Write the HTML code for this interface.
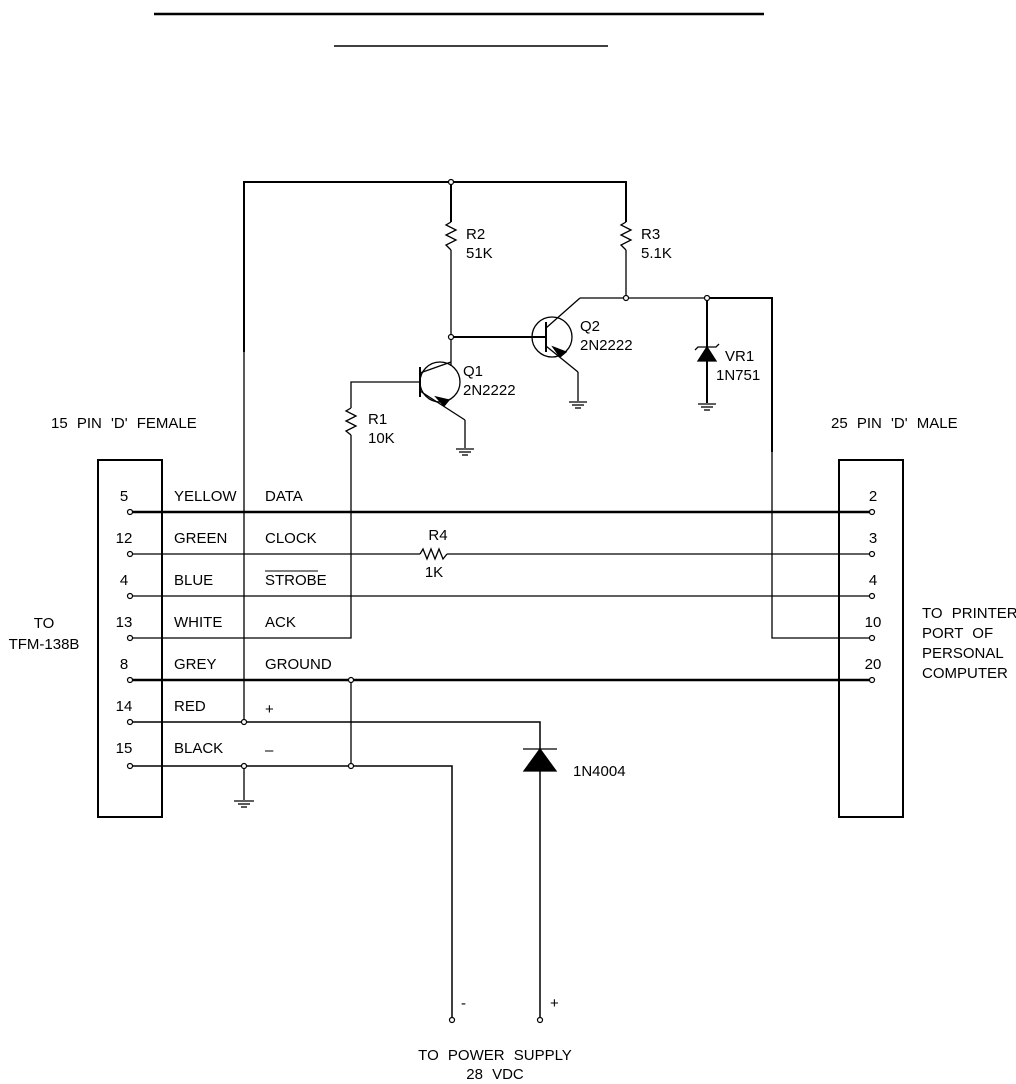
<!DOCTYPE html>
<html><head><meta charset="utf-8"><style>
html,body{margin:0;padding:0;background:#fff}
svg{display:block}
text{font-family:"Liberation Sans",sans-serif;font-size:15px;fill:#000;word-spacing:5px}
</style></head><body>
<svg width="1016" height="1084" viewBox="0 0 1016 1084" xmlns="http://www.w3.org/2000/svg" stroke="#000" fill="none" stroke-width="1.3">
<line x1="154" y1="14" x2="764" y2="14" stroke-width="2.5"/>
<line x1="334" y1="46" x2="608" y2="46" stroke-width="1.5"/>

<rect x="98" y="460" width="64" height="357" stroke-width="2"/>
<rect x="839" y="460" width="64" height="357" stroke-width="2"/>

<polyline points="244,352 244,182 626,182 626,222" stroke-width="2"/>
<line x1="244" y1="352" x2="244" y2="722"/>
<line x1="451" y1="182" x2="451" y2="222" stroke-width="2"/>
<polyline points="451,222 446,225 456,230 446,235 456,240 446,245 451,250"/>
<line x1="451" y1="250" x2="451" y2="366"/>
<polyline points="626,222 621,225 631,230 621,235 631,240 621,245 626,250"/>
<line x1="626" y1="250" x2="626" y2="298"/>
<line x1="580" y1="298" x2="707" y2="298"/>
<polyline points="707,298 772,298 772,452" stroke-width="2"/>
<polyline points="772,452 772,638 872,638"/>
<line x1="451" y1="337" x2="546" y2="337" stroke-width="2"/>
<circle cx="552" cy="337" r="20"/>
<line x1="546" y1="322" x2="546" y2="352" stroke-width="2"/>
<line x1="546" y1="328" x2="580" y2="298"/>
<line x1="546" y1="346" x2="578" y2="372"/>
<polygon points="560,357 553,347 566,352" fill="#000"/>
<line x1="578" y1="372" x2="578" y2="401"/>
<line x1="569" y1="402" x2="587" y2="402"/><line x1="572" y1="405" x2="584" y2="405"/><line x1="575" y1="408" x2="581" y2="408"/>
<circle cx="440" cy="382" r="20"/>
<line x1="420" y1="367" x2="420" y2="397" stroke-width="2"/>
<line x1="420" y1="373" x2="451" y2="362"/>
<line x1="420" y1="391" x2="465" y2="420"/>
<polygon points="444,406 436,397 449,400" fill="#000"/>
<line x1="465" y1="420" x2="465" y2="448"/>
<line x1="456" y1="449" x2="474" y2="449"/><line x1="459" y1="452" x2="471" y2="452"/><line x1="462" y1="455" x2="468" y2="455"/>
<polyline points="420,382 351,382 351,408"/>
<polyline points="351,408 346,411 356,416 346,421 356,426 346,431 351,435"/>
<polyline points="351,435 351,638 130,638"/>
<line x1="707" y1="298" x2="707" y2="403" stroke-width="2"/>
<polygon points="698,361 716,361 707,347" fill="#000"/>
<polyline points="695,350 698,347 716,347 719,344"/>
<line x1="698" y1="404" x2="716" y2="404"/><line x1="701" y1="407" x2="713" y2="407"/><line x1="704" y1="410" x2="710" y2="410"/>

<line x1="130" y1="512" x2="872" y2="512" stroke-width="2.5"/>
<line x1="130" y1="554" x2="420" y2="554"/>
<polyline points="420,554 423,549 427,559 431,549 435,559 439,549 443,559 447,554"/>
<line x1="447" y1="554" x2="872" y2="554"/>
<line x1="130" y1="596" x2="872" y2="596"/>
<line x1="130" y1="680" x2="872" y2="680" stroke-width="2.5"/>
<line x1="351" y1="680" x2="351" y2="766"/>
<polyline points="130,722 540,722 540,1020" stroke-width="1.5"/>
<polyline points="130,766 452,766 452,1020" stroke-width="1.5"/>
<line x1="244" y1="766" x2="244" y2="800"/>
<line x1="234" y1="801" x2="254" y2="801"/><line x1="238" y1="804" x2="250" y2="804"/><line x1="241" y1="807" x2="247" y2="807"/>
<polygon points="524,771 556,771 540,749" fill="#000"/>
<line x1="523" y1="749" x2="557" y2="749"/>

<g fill="#fff" stroke-width="1.2">
<circle cx="130" cy="512" r="2.5"/><circle cx="130" cy="554" r="2.5"/><circle cx="130" cy="596" r="2.5"/><circle cx="130" cy="638" r="2.5"/><circle cx="130" cy="680" r="2.5"/><circle cx="130" cy="722" r="2.5"/><circle cx="130" cy="766" r="2.5"/>
<circle cx="872" cy="512" r="2.5"/><circle cx="872" cy="554" r="2.5"/><circle cx="872" cy="596" r="2.5"/><circle cx="872" cy="638" r="2.5"/><circle cx="872" cy="680" r="2.5"/>
<circle cx="451" cy="182" r="2.5"/><circle cx="451" cy="337" r="2.5"/><circle cx="626" cy="298" r="2.5"/><circle cx="707" cy="298" r="2.5"/>
<circle cx="244" cy="722" r="2.5"/><circle cx="244" cy="766" r="2.5"/><circle cx="351" cy="680" r="2.5"/><circle cx="351" cy="766" r="2.5"/>
<circle cx="452" cy="1020" r="2.5"/><circle cx="540" cy="1020" r="2.5"/>
</g>

<g stroke="none">
<text x="466" y="239">R2</text><text x="466" y="258">51K</text>
<text x="641" y="239">R3</text><text x="641" y="258">5.1K</text>
<text x="580" y="331">Q2</text><text x="580" y="350">2N2222</text>
<text x="463" y="376">Q1</text><text x="463" y="395">2N2222</text>
<text x="725" y="361">VR1</text><text x="716" y="380">1N751</text>
<text x="368" y="424">R1</text><text x="368" y="443">10K</text>
<text x="51" y="428">15 PIN 'D' FEMALE</text>
<text x="831" y="428">25 PIN 'D' MALE</text>
<text x="124" y="501" text-anchor="middle">5</text><text x="124" y="543" text-anchor="middle">12</text><text x="124" y="585" text-anchor="middle">4</text><text x="124" y="627" text-anchor="middle">13</text><text x="124" y="669" text-anchor="middle">8</text><text x="124" y="711" text-anchor="middle">14</text><text x="124" y="753" text-anchor="middle">15</text>
<text x="174" y="501">YELLOW</text><text x="174" y="543">GREEN</text><text x="174" y="585">BLUE</text><text x="174" y="627">WHITE</text><text x="174" y="669">GREY</text><text x="174" y="711">RED</text><text x="174" y="753">BLACK</text>
<text x="265" y="501">DATA</text><text x="265" y="543">CLOCK</text><text x="265" y="585">STROBE</text><text x="265" y="627">ACK</text><text x="265" y="669">GROUND</text><text x="265" y="714">+</text><text x="265" y="755">–</text>
<text x="438" y="540" text-anchor="middle">R4</text><text x="434" y="577" text-anchor="middle">1K</text>
<text x="873" y="501" text-anchor="middle">2</text><text x="873" y="543" text-anchor="middle">3</text><text x="873" y="585" text-anchor="middle">4</text><text x="873" y="627" text-anchor="middle">10</text><text x="873" y="669" text-anchor="middle">20</text>
<text x="44" y="628" text-anchor="middle">TO</text><text x="44" y="649" text-anchor="middle">TFM-138B</text>
<g style="word-spacing:2px;font-size:14px"><text x="922" y="618">TO PRINTER</text><text x="922" y="638">PORT OF</text><text x="922" y="658">PERSONAL</text><text x="922" y="678">COMPUTER</text></g>
<text x="573" y="776">1N4004</text>
<text x="461" y="1008">-</text><text x="550" y="1008">+</text>
<text x="495" y="1060" text-anchor="middle">TO POWER SUPPLY</text>
<text x="495" y="1079" text-anchor="middle">28 VDC</text>
</g>
<line x1="265" y1="571" x2="318" y2="571" stroke-width="1"/>
</svg>
</body></html>
